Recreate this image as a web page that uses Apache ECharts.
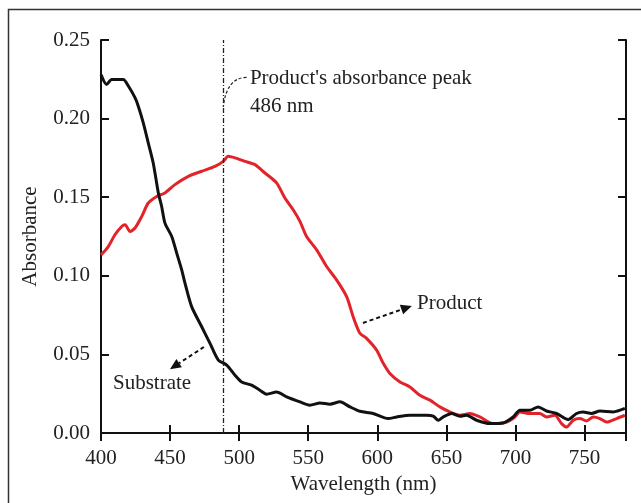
<!DOCTYPE html>
<html><head><meta charset="utf-8">
<script src="https://cdn.jsdelivr.net/npm/echarts@6/dist/echarts.min.js"></script>
<style>html,body{margin:0;padding:0;background:#fff}#c{width:641px;height:503px}</style>
</head><body><div id="c"></div>
<script>
// ---- data ----
var substrateNm = [400,404.1,407.7,416.1,419.8,424.6,427,430.6,434.2,437.8,441.5,443.9,446.3,451.2,454.8,458.4,460.8,465.6,472.9,478.9,484.9,491,497,501.8,509,515,519.9,527.1,534.4,544,551.2,558.5,565.7,572.9,580.2,587.4,597,607.9,614,623.6,635.7,640.5,644.1,647.7,653.8,659.8,664.6,671.9,681.5,691.1,698.3,703.2,710.4,716.4,722.5,729.7,738.1,744.2,749,755.1,761.1,770.7,779.2];
var substrateAbs = [0.228,0.2217,0.2249,0.2249,0.2207,0.2133,0.2079,0.1973,0.1846,0.1718,0.1527,0.1441,0.1335,0.1250,0.1144,0.1038,0.0953,0.0804,0.0676,0.0570,0.0464,0.0432,0.0368,0.0325,0.0304,0.0272,0.0247,0.0261,0.0230,0.0198,0.0177,0.0191,0.0183,0.0198,0.0166,0.0138,0.0124,0.0092,0.0102,0.0113,0.0113,0.0107,0.0081,0.0102,0.0124,0.0107,0.0113,0.0081,0.0060,0.0064,0.0102,0.0145,0.0145,0.0166,0.0140,0.0124,0.0085,0.0124,0.0134,0.0124,0.0140,0.0134,0.0156];
var productNm = [400,405.3,410.1,415,417.4,421,424.6,429.5,434.2,440.3,446.3,453.5,463.2,472.9,482.5,488.5,492.1,497,504.2,511.4,518.7,527.1,533.1,539.1,544,548.8,556.1,563.3,570.5,577.8,582.5,587.4,592.2,599.5,604.3,609.1,616.4,623.6,630.8,638.1,645.3,652.5,659.8,667,674.2,683.9,693.6,699.6,703.2,710.4,717.6,722.5,728.5,733.4,737,741.8,746.6,751.5,756.3,761.1,766,773.2,779.2];
var productAbs = [0.1133,0.1186,0.1261,0.1314,0.1325,0.1282,0.1304,0.1378,0.1463,0.1505,0.1527,0.1580,0.1633,0.1665,0.1696,0.1728,0.1760,0.1750,0.1728,0.1707,0.1654,0.1591,0.1495,0.1420,0.1346,0.1250,0.1165,0.1059,0.0974,0.0867,0.0740,0.0634,0.0602,0.0527,0.0443,0.0379,0.0325,0.0293,0.0240,0.0209,0.0166,0.0134,0.0113,0.0124,0.0102,0.0060,0.0070,0.0102,0.0134,0.0124,0.0124,0.0102,0.0113,0.0060,0.0038,0.0081,0.0092,0.0077,0.0102,0.0092,0.0070,0.0092,0.0113];
var peakLineNm = 488.5;
var peakText1 = "Product's absorbance peak";
var peakText2 = "486 nm";
var xTitle = "Wavelength (nm)";
var yTitle = "Absorbance";
// annotation anchors in data coordinates [nm, absorbance]
var peakTextAt = [507.8, 0.2255];
var peakText2At = [507.8, 0.2075];
var leaderFrom = [505.4, 0.2262];
var leaderCtrl = [491.0, 0.2262];
var leaderTo = [peakLineNm, 0.2075];
var productArrowTail = [589.6, 0.0700];
var productArrowTip = [625.0, 0.0808];
var productLabelAt = [628.7, 0.0827];
var substrateArrowTail = [474.5, 0.0547];
var substrateArrowTip = [449.9, 0.0406];
var substrateLabelAt = [408.7, 0.0317];

function zip(a, b) { return a.map(function (v, i) { return [v, b[i]]; }); }

var FONT = '"Liberation Serif", "Times New Roman", serif';
var TXT = '#222';
var chart = echarts.init(document.getElementById('c'), null, {renderer: 'canvas'});
var axisLine = {show: true, lineStyle: {color: '#111', width: 2}};
var tick = {show: true, inside: true, length: 8, lineStyle: {color: '#111', width: 2}};

chart.setOption({
  animation: false,
  backgroundColor: '#fff',
  grid: {left: 101, right: 15, top: 40, bottom: 70, containLabel: false},
  xAxis: [{
    type: 'value', min: 400, max: 780, interval: 50, position: 'bottom',
    axisLine: axisLine, axisTick: tick, splitLine: {show: false},
    axisLabel: {fontFamily: FONT, fontSize: 21, color: TXT, margin: 15, showMaxLabel: false},
    name: xTitle, nameLocation: 'middle', nameGap: 39,
    nameTextStyle: {fontFamily: FONT, fontSize: 21, color: TXT}
  }, {
    type: 'value', min: 400, max: 780, interval: 50, position: 'top',
    axisLine: axisLine, axisTick: tick, splitLine: {show: false}, axisLabel: {show: false}
  }],
  yAxis: [{
    type: 'value', min: 0, max: 0.25, interval: 0.05, position: 'left',
    axisLine: axisLine, axisTick: tick, splitLine: {show: false},
    axisLabel: {fontFamily: FONT, fontSize: 21, color: TXT, margin: 11,
      formatter: function (v) { return v.toFixed(2); }},
    name: yTitle, nameLocation: 'middle', nameGap: 60,
    nameTextStyle: {fontFamily: FONT, fontSize: 21, color: TXT}
  }, {
    type: 'value', min: 0, max: 0.25, interval: 0.05, position: 'right',
    axisLine: axisLine, axisTick: tick, splitLine: {show: false}, axisLabel: {show: false}
  }],
  series: [{
    name: 'Substrate', type: 'line', data: zip(substrateNm, substrateAbs),
    showSymbol: false, smooth: 0.25, lineStyle: {color: '#111', width: 3}, z: 3,
    markLine: {
      silent: true, symbol: ['none', 'none'], label: {show: false},
      lineStyle: {color: '#222', width: 1.3, type: [5, 2, 1, 2]},
      data: [{xAxis: peakLineNm}]
    }
  }, {
    name: 'Product', type: 'line', data: zip(productNm, productAbs),
    showSymbol: false, smooth: 0.25, lineStyle: {color: '#e3232a', width: 3}, z: 2
  }]
});

function P(d) { return chart.convertToPixel({gridIndex: 0}, d); }
function arrow(tail, tip) {
  var a = P(tail), b = P(tip);
  var dx = b[0] - a[0], dy = b[1] - a[1], L = Math.sqrt(dx * dx + dy * dy);
  var ux = dx / L, uy = dy / L, hl = 11, hw = 5;
  var bx = b[0] - ux * hl, by = b[1] - uy * hl;
  return [
    {type: 'line', shape: {x1: a[0], y1: a[1], x2: bx, y2: by},
     style: {stroke: '#111', lineWidth: 2, lineDash: [4, 3]}, z: 10},
    {type: 'polygon', shape: {points: [[b[0], b[1]], [bx - uy * hw, by + ux * hw], [bx + uy * hw, by - ux * hw]]},
     style: {fill: '#111'}, z: 10}
  ];
}
function label(text, at) {
  var p = P(at);
  return {type: 'text', x: p[0], y: p[1], z: 10,
    style: {text: text, font: '21px ' + FONT, fill: TXT, verticalAlign: 'middle', align: 'left'}};
}
var lf = P(leaderFrom), lc = P(leaderCtrl), lt = P(leaderTo);
var g = [
  {type: 'rect', shape: {x: 8.5, y: 9.5, width: 700, height: 600}, style: {fill: null, stroke: '#333', lineWidth: 1.5}, z: 0, silent: true},
  label(peakText1, peakTextAt),
  label(peakText2, peakText2At),
  label('Product', productLabelAt),
  label('Substrate', substrateLabelAt),
  {type: 'bezierCurve', shape: {x1: lf[0], y1: lf[1], cpx1: lc[0], cpy1: lc[1], x2: lt[0], y2: lt[1]},
   style: {stroke: '#222', lineWidth: 1.2, lineDash: [3, 2], fill: null}, z: 10}
].concat(arrow(productArrowTail, productArrowTip)).concat(arrow(substrateArrowTail, substrateArrowTip));
chart.setOption({graphic: g});
</script></body></html>
